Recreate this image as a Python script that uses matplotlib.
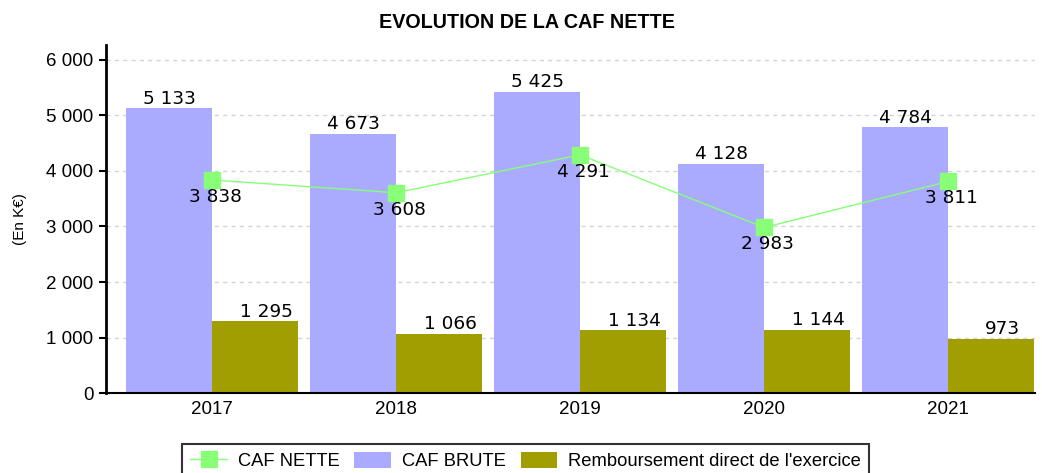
import matplotlib
matplotlib.use("Agg")
import matplotlib.pyplot as plt
import numpy as np
from matplotlib.lines import Line2D
from matplotlib.patches import Patch

years = ["2017", "2018", "2019", "2020", "2021"]
caf_brute = [5133, 4673, 5425, 4128, 4784]
remboursement = [1295, 1066, 1134, 1144, 973]
caf_nette = [3838, 3608, 4291, 2983, 3811]

def fmt(v):
    return f"{v:,}".replace(",", " ")

plt.rcParams['font.family'] = ['Liberation Sans', 'DejaVu Sans']
fig = plt.figure(figsize=(10.42, 4.73), dpi=100)
ax = fig.add_axes([0.1017, 0.169, 0.8913, 0.736])

x = np.arange(len(years))
w = 0.467
c_brute = "#aaaaff"
c_remb = "#a09e00"
c_nette = "#88ff77"
lab_font = dict(family=['DejaVu Sans'], fontsize=13.3)

ax.bar(x - w / 2, caf_brute, width=w, color=c_brute, zorder=2)
ax.bar(x + w / 2, remboursement, width=w, color=c_remb, zorder=2)
ax.plot(x, caf_nette, color=c_nette, lw=1, marker="s", markersize=12,
        markerfacecolor=c_nette, markeredgecolor=c_nette, zorder=4)

for xi, v in zip(x, caf_brute):
    ax.text(xi - w / 2, v + 10, fmt(v), ha="center", va="bottom", zorder=5, **lab_font)
for xi, v in zip(x, remboursement):
    ax.text(xi + w / 2 + 0.06, v + 10, fmt(v), ha="center", va="bottom", zorder=5, **lab_font)
for xi, v in zip(x, caf_nette):
    ax.text(xi + 0.02, v - 140, fmt(v), ha="center", va="top", zorder=5, **lab_font)

ax.set_xlim(-0.576, 4.47)
ax.set_ylim(0, 6270)
ax.set_yticks(range(0, 6001, 1000))
ax.set_yticklabels([fmt(v) for v in range(0, 6001, 1000)], fontsize=13.5)
ax.set_xticks(x)
ax.set_xticklabels(years, fontsize=13.5)
ax.tick_params(axis="x", length=0, pad=6)
ax.tick_params(axis="y", length=5, width=1.5, direction="out", pad=4)
ax.yaxis.grid(True, linestyle=(0, (3, 3)), color="#d4d4d4", lw=1, zorder=0)
ax.set_axisbelow(True)
for s in ["top", "right"]:
    ax.spines[s].set_visible(False)
ax.spines["left"].set_linewidth(2)
ax.spines["bottom"].set_linewidth(1.5)
ax.set_ylabel("(En K€)", fontsize=11, labelpad=14)

fig.text(0.506, 0.952, "EVOLUTION DE LA CAF NETTE", ha="center", va="center",
         fontsize=14.2, fontweight="bold")

handles = [
    Line2D([0], [0], color=c_nette, lw=1, marker="s", markersize=12,
           markerfacecolor=c_nette, markeredgecolor=c_nette),
    Patch(facecolor=c_brute, edgecolor="none"),
    Patch(facecolor=c_remb, edgecolor="none"),
]
labels = ["CAF NETTE", "CAF BRUTE", "Remboursement direct de l'exercice"]
leg = fig.legend(handles, labels, loc="upper center", bbox_to_anchor=(0.5045, 0.062),
                 borderaxespad=0, ncol=3, fontsize=13.2, frameon=True, fancybox=False,
                 edgecolor="black", handlelength=2.0, handleheight=1.0,
                 columnspacing=0.8, handletextpad=0.6, borderpad=0.45)
leg.get_frame().set_linewidth(1.5)

fig.savefig("out.png", dpi=100)
